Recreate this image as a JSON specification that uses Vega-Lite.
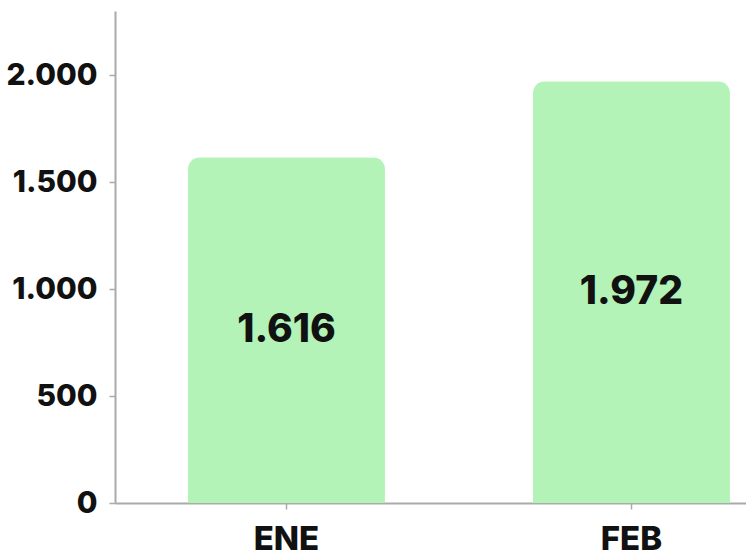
{
  "$schema": "https://vega.github.io/schema/vega-lite/v6.json",
  "width": 631,
  "height": 492,
  "autosize": "none",
  "padding": {"left": 115, "top": 11, "right": 0, "bottom": 56},
  "background": "white",
  "data": {"values": [
    {"mes": "ENE", "valor": 1616, "etiqueta": "1.616"},
    {"mes": "FEB", "valor": 1972, "etiqueta": "1.972"}
  ]},
  "config": {
    "view": {"stroke": null},
    "locale": {"number": {"decimal": ",", "thousands": ".", "grouping": [3], "currency": ["", "€"]}},
    "font": "Inter"
  },
  "layer": [
    {
      "mark": {"type": "bar", "color": "#b3f3b7", "cornerRadiusTopLeft": 12, "cornerRadiusTopRight": 12},
      "encoding": {
        "x": {"field": "mes", "type": "nominal", "sort": null, "title": null,
          "scale": {"paddingInner": 0.429, "paddingOuter": 0.129, "align": 0.82},
          "axis": {"labelAngle": 0, "labelFont": "Inter", "labelFontWeight": 800, "labelFontSize": 33, "labelColor": "#111111",
            "labelPadding": 14, "domainColor": "#aaaaaa", "domainWidth": 2, "tickColor": "#aaaaaa", "tickWidth": 1.5, "tickSize": 6}},
        "y": {"field": "valor", "type": "quantitative", "title": null,
          "scale": {"domain": [0, 2300], "nice": false},
          "axis": {"values": [0, 500, 1000, 1500, 2000], "format": ",d", "grid": false, "labelFont": "Inter", "labelFontWeight": 800,
            "labelFontSize": 30, "labelColor": "#111111", "labelPadding": 12, "domainColor": "#aaaaaa", "domainWidth": 2,
            "tickColor": "#aaaaaa", "tickWidth": 1.5, "tickSize": 6}}
      }
    },
    {
      "mark": {"type": "text", "font": "Inter", "fontWeight": 800, "fontSize": 39, "color": "#111111", "baseline": "middle", "align": "center"},
      "encoding": {
        "x": {"field": "mes", "type": "nominal", "sort": null},
        "y": {"field": "valor", "type": "quantitative", "scale": {"domain": [0, 4600], "nice": false}, "axis": null},
        "text": {"field": "etiqueta"}
      }
    }
  ],
  "resolve": {"scale": {"y": "independent"}}
}
